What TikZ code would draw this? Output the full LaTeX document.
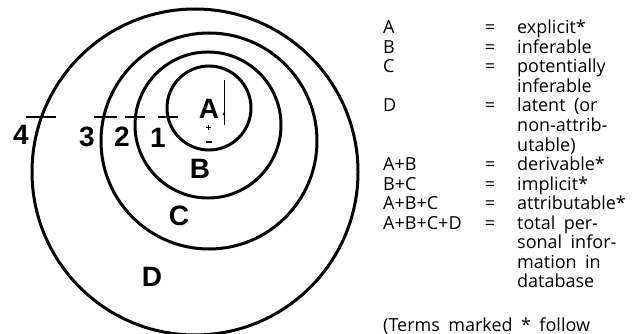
\documentclass[tikz,border=0pt]{standalone}
\usepackage{fontspec}
\setmainfont{Open Sans}
\newfontfamily\keyfont[WordSpace=1.8]{Open Sans}
\newfontfamily\regionfont{Liberation Sans}

\begin{document}
\begin{tikzpicture}[
    x=1pt, y=-1pt,
    ring/.style={line width=3pt},
    tickline/.style={line width=2.4pt},
    region/.style={inner sep=0pt, font=\regionfont\bfseries\fontsize{28}{28}\selectfont},
    term/.style={anchor=base west, inner sep=0pt, font=\keyfont\fontsize{18}{19.5}\selectfont},
    eqsign/.style={anchor=base, inner sep=0pt, font=\keyfont\fontsize{18}{19.5}\selectfont},
]
    \useasboundingbox (0,0) rectangle (637,334);
    \fill[white] (0,0) rectangle (637,334);

    % nested circles
    \coordinate (oA) at (209,108);
    \coordinate (oB) at (208,125);
    \coordinate (oC) at (209,141);
    \coordinate (oD) at (195,172);
    \draw[ring] (oA) circle[radius=42pt];
    \draw[ring] (oB) circle[radius=73pt];
    \draw[ring] (oC) circle[radius=108pt];
    \draw[ring] (oD) circle[radius=163pt];

    \node[region] (lA) at (209,109) {A};
    \node[region] (lB) at (200,169) {B};
    \node[region] (lC) at (179,216) {C};
    \node[region] (lD) at (152,277) {D};

    % boundary marks
    \foreach \n/\x/\w in {4/41/15, 3/105.5/11.5, 2/135/10, 1/168/10} {
        \coordinate (t\n) at (\x,117);
        \draw[tickline] ([xshift=-\w pt]t\n) -- ([xshift=\w pt]t\n);
    }
    \node[region] (n4) at (21,135) {4};
    \node[region] (n3) at (87,137) {3};
    \node[region] (n2) at (122,137) {2};
    \node[region] (n1) at (158,138) {1};

    % stray marks beside A
    \draw[line width=0.8pt] (224,80) -- (224,125);
    \fill (224,114) circle[radius=1.3pt];
    \draw[line width=1pt] (206,128) -- (211,128) (208.5,125.5) -- (208.5,130.5);
    \draw[line width=1.2pt] (206,142) -- (212,142);

    % key
    \foreach \k/\lbl/\txt in {0/A/explicit*, 1/B/inferable, 2/C/potentially,
        4/D/latent (or, 7/A+B/derivable*, 8/B+C/implicit*,
        9/A+B+C/attributable*, 10/A+B+C+D/total per-} {
        \node[term] (key\k) at (383,34+19.5*\k) {\lbl};
        \node[eqsign] (eq\k) at (490,34+19.5*\k) {=};
        \node[term] (val\k) at (517,34+19.5*\k) {\txt};
    }
    \foreach \k/\txt in {3/inferable, 5/non-attrib-, 6/utable),
        11/sonal infor-, 12/mation in, 13/database} {
        \node[term] (val\k) at (517,34+19.5*\k) {\txt};
    }
    \node[term] (note) at (383,331) {(Terms marked * follow};
\end{tikzpicture}
\end{document}
